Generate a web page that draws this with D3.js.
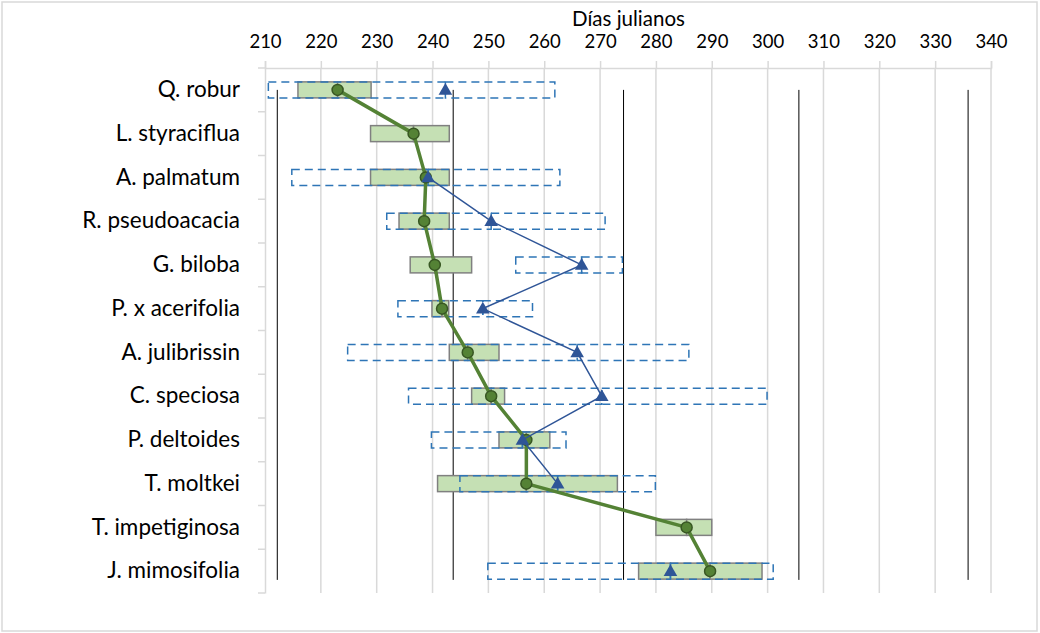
<!DOCTYPE html>
<html lang="es">
<head>
<meta charset="UTF-8">
<title>Días julianos</title>
<script src="https://d3js.org/d3.v7.min.js"></script>
<style>
    body { margin: 0; background: #fff; }
    text { font-family: Lato, "Noto Sans", sans-serif; fill: #000; }
</style>
</head>
<body>
<div id="chart"></div>
<script>
// Species (rows, top to bottom)
var species = ["Q. robur", "L. styraciflua", "A. palmatum", "R. pseudoacacia", "G. biloba",
    "P. x acerifolia", "A. julibrissin", "C. speciosa", "P. deltoides", "T. moltkei",
    "T. impetiginosa", "J. mimosifolia"];

// Green series: range start / end and central value (solid boxes, thick line)
var greenStart = [215.9, 228.9, 228.9, 234.0, 236.0, 239.9, 243.0, 247.0, 251.9, 240.9, 280.0, 276.9];
var greenEnd   = [229.0, 243.0, 243.0, 243.0, 247.0, 242.9, 251.9, 252.9, 261.0, 273.1, 290.0, 299.0];
var greenPoint = [223.0, 236.6, 238.8, 238.5, 240.4, 241.7, 246.3, 250.5, 256.8, 256.8, 285.5, 289.7];

// Blue series: range start / end and central value (dashed boxes, thin line)
var blueStart = [210.6, null, 214.8, 231.8, 254.9, 233.8, 224.8, 235.7, 239.8, 244.9, null, 249.9];
var blueEnd   = [261.9, null, 262.8, 270.9, 274.0, 257.9, 285.9, 299.9, 263.9, 279.9, null, 301.0];
var bluePoint = [242.3, null, 239.2, 250.5, 266.7, 249.0, 265.9, 270.3, 256.1, 262.4, null, 282.6];

// Black vertical reference lines (day values)
var refLines = [212.2, 243.7, 274.2, 305.6, 335.9];

// Axis ticks
var xTicks = d3.range(210, 341, 10);

var width = 1040, height = 633;
var plotLeft = 265, plotRight = 991, plotTop = 68, plotBottom = 593;
var boxH = 16;

var svg = d3.select("#chart").append("svg")
    .attr("width", width)
    .attr("height", height);

// chart frame
svg.append("rect")
    .attr("x", 2).attr("y", 2)
    .attr("width", width - 5).attr("height", height - 4)
    .attr("fill", "#fff")
    .attr("stroke", "#d9d9d9")
    .attr("stroke-width", 1.5);

var x = d3.scaleLinear().domain([210, 340]).range([plotLeft, plotRight]);
var y = d3.scaleBand().domain(species).range([plotTop, plotBottom]);
var yc = function(i) { return y(species[i]) + y.bandwidth() / 2; };

// vertical gridlines
svg.append("g").selectAll("line")
    .data(xTicks.slice(1))
    .enter().append("line")
        .attr("x1", function(d) { return x(d); })
        .attr("x2", function(d) { return x(d); })
        .attr("y1", plotTop).attr("y2", plotBottom)
        .attr("stroke", "#d9d9d9")
        .attr("stroke-width", 1.5);

// top axis
var xAxis = d3.axisTop(x).tickValues(xTicks).tickSize(7).tickPadding(13);
var gx = svg.append("g")
    .attr("transform", "translate(0," + plotTop + ")")
    .call(xAxis);
gx.select(".domain").attr("stroke", "#d9d9d9").attr("stroke-width", 1.5);
gx.selectAll(".tick line").attr("stroke", "#d9d9d9").attr("stroke-width", 1.5);
gx.selectAll(".tick text")
    .attr("font-family", "Lato, sans-serif")
    .attr("font-size", "18.5px")
    .attr("fill", "#000");

// axis title
svg.append("text")
    .attr("x", (plotLeft + plotRight) / 2 + 0.5)
    .attr("y", 26)
    .attr("text-anchor", "middle")
    .attr("font-size", "20.5px")
    .text("Días julianos");

// left axis (categories)
var yAxis = d3.axisLeft(y).tickSize(0).tickPadding(25);
var gy = svg.append("g")
    .attr("transform", "translate(" + plotLeft + ",0)")
    .call(yAxis);
gy.select(".domain").attr("stroke", "#d9d9d9").attr("stroke-width", 1.5);
gy.selectAll(".tick text")
    .attr("font-family", "Lato, sans-serif")
    .attr("font-size", "22.5px")
    .attr("fill", "#000");

// category boundary ticks
svg.append("g").selectAll("line")
    .data(species.concat(["end"]))
    .enter().append("line")
        .attr("x1", plotLeft - 7).attr("x2", plotLeft)
        .attr("y1", function(d, i) { return plotTop + i * y.bandwidth(); })
        .attr("y2", function(d, i) { return plotTop + i * y.bandwidth(); })
        .attr("stroke", "#d9d9d9")
        .attr("stroke-width", 1.5);

// black reference lines
svg.append("g").selectAll("line")
    .data(refLines)
    .enter().append("line")
        .attr("x1", function(d) { return x(d); })
        .attr("x2", function(d) { return x(d); })
        .attr("y1", yc(0))
        .attr("y2", yc(species.length - 1) + y.bandwidth() * 0.2)
        .attr("stroke", "#000")
        .attr("stroke-width", 1);

// helper: box split in two segments at the central value
function segments(start, mid, end) {
    var out = [];
    species.forEach(function(s, i) {
        if (start[i] == null) return;
        out.push({i: i, a: start[i], b: mid[i]});
        out.push({i: i, a: mid[i], b: end[i]});
    });
    return out;
}

// green boxes
svg.append("g").selectAll("rect")
    .data(segments(greenStart, greenPoint, greenEnd))
    .enter().append("rect")
        .attr("x", function(d) { return x(d.a); })
        .attr("y", function(d) { return yc(d.i) - boxH / 2; })
        .attr("width", function(d) { return x(d.b) - x(d.a); })
        .attr("height", boxH)
        .attr("fill", "#c5e0b4")
        .attr("stroke", "#808080")
        .attr("stroke-width", 1.5);

// blue dashed boxes
svg.append("g").selectAll("rect")
    .data(segments(blueStart, bluePoint, blueEnd))
    .enter().append("rect")
        .attr("x", function(d) { return x(d.a); })
        .attr("y", function(d) { return yc(d.i) - boxH / 2; })
        .attr("width", function(d) { return x(d.b) - x(d.a); })
        .attr("height", boxH)
        .attr("fill", "none")
        .attr("stroke", "#2e75b6")
        .attr("stroke-width", 1.5)
        .attr("stroke-dasharray", "8,5");

// green line + circles
var idx = d3.range(species.length);
var greenLine = d3.line()
    .x(function(i) { return x(greenPoint[i]); })
    .y(function(i) { return yc(i); });
svg.append("path")
    .datum(idx)
    .attr("d", greenLine)
    .attr("fill", "none")
    .attr("stroke", "#548235")
    .attr("stroke-width", 3.5)
    .attr("stroke-linejoin", "round");

svg.append("g").selectAll("circle")
    .data(idx)
    .enter().append("circle")
        .attr("cx", function(i) { return x(greenPoint[i]); })
        .attr("cy", function(i) { return yc(i); })
        .attr("r", 5.5)
        .attr("fill", "#548235")
        .attr("stroke", "#385723")
        .attr("stroke-width", 1.5);

// blue line (gaps where no data) + triangles
var blueLine = d3.line()
    .defined(function(i) { return bluePoint[i] != null; })
    .x(function(i) { return x(bluePoint[i]); })
    .y(function(i) { return yc(i); });
svg.append("path")
    .datum(idx)
    .attr("d", blueLine)
    .attr("fill", "none")
    .attr("stroke", "#2f5597")
    .attr("stroke-width", 1.5);

var tri = d3.symbol().type(d3.symbolTriangle).size(80);
svg.append("g").selectAll("path")
    .data(idx.filter(function(i) { return bluePoint[i] != null; }))
    .enter().append("path")
        .attr("d", tri)
        .attr("transform", function(i) {
            return "translate(" + x(bluePoint[i]) + "," + (yc(i) + 1) + ")";
        })
        .attr("fill", "#2f5597");
</script>
</body>
</html>
